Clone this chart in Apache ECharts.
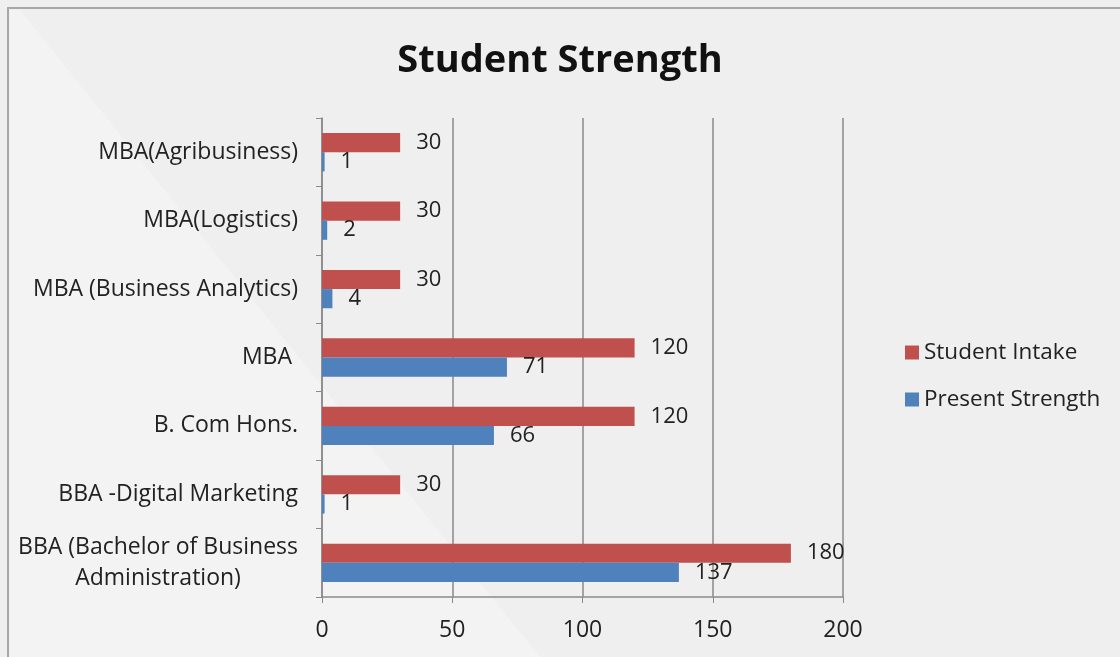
<!DOCTYPE html>
<html>
<head>
<meta charset="utf-8">
<title>Student Strength</title>
<script src="https://cdn.jsdelivr.net/npm/echarts@6/dist/echarts.min.js"></script>
<style>
    html, body {margin: 0; padding: 0; background: #efefef;}
    #chart {width: 1120px; height: 657px;}
</style>
</head>
<body>
<div id="chart"></div>
<script>
// categories bottom -> top
const programmes = [
    'BBA (Bachelor of Business\nAdministration)',
    'BBA -Digital Marketing',
    'B. Com Hons.',
    'MBA ',
    'MBA (Business Analytics)',
    'MBA(Logistics)',
    'MBA(Agribusiness)'
];
const studentIntake = [180, 30, 120, 120, 30, 30, 30];
const presentStrength = [137, 1, 66, 71, 4, 2, 1];
const xTicks = [0, 50, 100, 150, 200];

const font = '"Open Sans", sans-serif';

let chart = echarts.init(document.getElementById('chart'));

let labelStyle = {
    show: true,
    position: 'right',
    distance: 16,
    color: '#222',
    fontFamily: font,
    fontSize: 22
};

// 多行标签居中对齐
let catFormatter = value => value.split('\n').map(s => '{c|' + s + '}').join('\n');

let option = {
    backgroundColor: '#efefef',
    animation: false,
    title: {
        text: 'Student Strength',
        left: 'center',
        top: 37,
        textStyle: {fontFamily: font, fontSize: 38, fontWeight: 'bold', color: '#111'}
    },
    graphic: [
        {
            type: 'polygon',
            shape: {points: [[10, 10], [20, 10], [540, 657], [10, 657]]},
            style: {fill: '#f3f3f3'},
            silent: true,
            z: -10
        },
        {
            type: 'rect',
            shape: {x: 8, y: 8, width: 1130, height: 680},
            style: {fill: 'none', stroke: '#a8a8a8', lineWidth: 2},
            silent: true
        }
    ],
    legend: {
        orient: 'vertical',
        left: 900,
        top: 336,
        itemWidth: 14,
        itemHeight: 14,
        itemGap: 24,
        icon: 'rect',
        textStyle: {fontFamily: font, fontSize: 22.5, color: '#222'},
        data: ['Student Intake', 'Present Strength']
    },
    grid: {left: 322, right: 277, top: 118, bottom: 60},
    xAxis: {
        type: 'value',
        min: xTicks[0],
        max: xTicks[xTicks.length - 1],
        interval: 50,
        axisLine: {show: true, lineStyle: {color: '#8a8a8a', width: 1.5}},
        axisTick: {show: true, length: 6, lineStyle: {color: '#8a8a8a'}},
        axisLabel: {fontFamily: font, fontSize: 23, color: '#222', margin: 22},
        splitLine: {show: true, lineStyle: {color: '#8a8a8a', width: 1.5}}
    },
    yAxis: {
        type: 'category',
        data: programmes,
        axisLine: {show: true, lineStyle: {color: '#8a8a8a', width: 1.5}},
        axisTick: {show: true, length: 6, lineStyle: {color: '#8a8a8a'}},
        axisLabel: {
            fontFamily: font,
            fontSize: 23,
            color: '#222',
            margin: 24,
            formatter: catFormatter,
            rich: {c: {align: 'center', fontFamily: font, fontSize: 23, color: '#222', lineHeight: 31}}
        }
    },
    series: [
        {
            name: 'Student Intake',
            type: 'bar',
            data: studentIntake,
            barGap: '0%',
            barCategoryGap: '44%',
            itemStyle: {color: '#c0504d'},
            label: labelStyle
        },
        {
            name: 'Present Strength',
            type: 'bar',
            data: presentStrength,
            itemStyle: {color: '#4f81bd'},
            label: labelStyle
        }
    ]
};
chart.setOption(option);
</script>
</body>
</html>
